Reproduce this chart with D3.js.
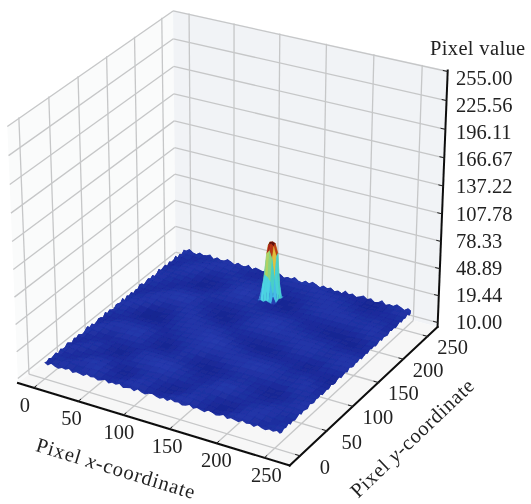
<!DOCTYPE html>
<html>
<head>
<meta charset="utf-8">
<script src="https://cdn.jsdelivr.net/npm/d3@7"></script>
<style>
  html, body { margin: 0; padding: 0; background: #fff; }
  text { font-family: "Liberation Serif", serif; fill: #222; }
</style>
</head>
<body>
<div id="chart"></div>
<script>
let xTicks = [0, 50, 100, 150, 200, 250];
let yTicks = [0, 50, 100, 150, 200, 250];
let zTicks = [255, 225.56, 196.11, 166.67, 137.22, 107.78, 78.33, 48.89, 19.44, -10];
let zTickLabels = ["255.00", "225.56", "196.11", "166.67", "137.22", "107.78", "78.33", "48.89", "19.44", "10.00"];

// pixel value on a coarse 8 px grid, rows are y = 0..256, columns x = 0..256
let surfaceZ = [
[5,4,6,5,4,5,6,5,4,4,5,6,6,5,4,4,5,5,6,6,5,4,4,3,4,5,6,6,5,4,5,5,6],
[4,5,5,6,5,5,6,6,5,4,4,5,6,6,5,4,3,4,5,6,6,5,4,3,3,4,5,6,6,5,4,5,5],
[5,5,4,5,6,6,7,6,5,4,3,4,5,6,5,4,3,3,4,5,6,5,4,3,3,3,5,6,6,6,5,4,5],
[6,5,4,4,5,6,6,5,4,3,3,4,5,5,5,4,4,3,4,5,5,5,5,4,4,4,5,5,6,6,5,5,4],
[5,6,5,4,4,5,5,5,4,4,4,5,5,6,6,5,5,4,4,5,6,6,6,5,5,4,4,5,5,6,5,5,5],
[4,5,6,5,4,4,4,4,4,5,5,6,6,7,6,6,5,5,4,4,5,6,7,6,5,5,4,4,4,5,5,6,5],
[4,4,5,6,5,4,3,3,4,5,6,6,7,7,7,6,5,4,4,4,5,6,6,6,5,4,4,3,4,4,5,6,6],
[5,4,4,5,5,4,3,3,4,5,6,6,6,6,6,5,4,4,3,4,4,5,5,5,5,4,3,3,3,4,5,5,6],
[6,5,4,4,4,4,4,4,4,5,5,5,5,5,5,4,4,3,3,3,4,4,5,5,4,4,4,3,4,5,5,5,5],
[6,6,5,4,4,5,5,5,5,4,4,4,4,5,5,4,3,3,3,4,4,5,5,5,5,5,5,4,5,5,6,5,4],
[5,6,6,5,5,6,6,6,5,4,3,3,4,5,5,5,4,4,4,5,5,6,6,6,6,6,5,5,5,6,6,5,4],
[4,5,6,6,6,6,7,6,5,4,3,3,4,5,6,6,5,5,5,6,6,6,7,7,6,6,5,5,5,6,5,4,4],
[4,4,5,6,6,6,6,6,5,4,4,4,5,5,6,6,6,6,6,6,6,6,6,6,6,5,5,4,5,5,4,4,3],
[5,4,4,5,5,5,5,5,4,4,4,5,5,6,6,7,7,6,6,5,5,5,5,5,5,5,4,4,4,4,4,3,3],
[5,5,4,4,4,4,4,4,4,4,5,5,6,6,7,7,7,6,5,5,4,4,4,4,4,4,4,3,3,4,4,4,4],
[6,5,5,4,3,3,3,3,4,5,5,6,6,6,7,6,6,5,4,4,3,3,3,3,4,4,4,4,3,4,5,5,5],
[6,6,5,4,3,2,3,3,4,5,6,6,6,6,6,5,5,4,4,3,3,3,3,4,4,5,5,5,4,5,5,6,6],
[5,6,6,5,4,3,3,4,5,5,6,6,5,5,5,5,4,4,4,4,4,4,4,5,5,6,6,5,5,5,6,6,6],
[5,5,6,6,5,4,4,4,5,6,6,5,5,4,4,4,4,5,5,5,5,5,5,5,6,6,6,6,5,5,6,6,5],
[4,5,5,6,6,5,5,5,6,6,5,4,4,3,3,4,5,5,6,6,6,6,6,6,6,6,6,5,5,5,5,5,5],
[4,4,5,6,6,6,6,6,6,5,5,4,3,3,3,4,5,6,6,7,7,6,6,6,5,5,5,5,4,4,4,4,4],
[5,4,4,5,6,6,7,7,6,5,4,4,3,3,4,4,5,6,6,7,6,6,5,5,5,4,4,4,4,3,3,4,4],
[5,5,4,4,5,6,6,6,6,5,4,4,4,4,4,5,5,5,6,6,6,5,5,4,4,4,3,3,3,3,3,4,5],
[6,5,5,4,4,5,5,5,5,5,5,5,5,5,5,5,5,5,5,5,5,5,4,4,4,3,3,3,3,4,4,5,5],
[6,6,5,4,4,4,4,4,4,5,5,6,6,6,5,5,4,4,4,4,4,4,4,4,4,4,4,4,4,5,5,6,5],
[5,6,5,5,4,4,3,3,4,4,5,6,6,7,6,5,4,4,3,3,4,4,5,5,5,5,5,5,5,5,6,6,5],
[5,5,5,5,5,4,3,3,3,4,5,6,7,7,6,5,4,3,3,3,4,5,5,6,6,6,6,6,5,6,6,5,4],
[4,5,5,6,5,5,4,3,4,4,5,6,6,6,6,5,4,3,3,4,5,5,6,6,6,6,6,5,5,5,5,5,4],
[4,4,5,6,6,5,4,4,4,5,5,5,6,6,5,4,4,4,4,4,5,5,6,6,6,5,5,5,4,5,5,4,4],
[5,4,5,5,6,6,5,5,5,5,5,5,5,5,5,4,4,4,5,5,5,6,6,6,5,5,4,4,4,4,4,4,5],
[5,5,4,5,5,6,6,6,5,5,4,4,4,5,5,5,5,5,5,5,6,6,6,5,5,4,4,3,4,4,5,5,5],
[6,5,5,4,5,5,6,6,6,5,4,4,4,4,5,5,6,6,6,6,6,5,5,5,4,4,3,3,3,4,5,6,6],
[6,6,5,5,4,5,5,6,6,5,5,4,4,4,5,6,6,7,6,6,5,5,4,4,4,4,4,3,4,5,5,6,5]
];

// rim heights, 4 px apart, they give the jagged outline of the surface
let rimFrontX = [3,1,4,2,1,3,2,4,1,3,2,1,4,2,3,1,2,4,1,3,2,4,1,2,3,1,4,2,1,3,4,2,1,3,1,4,2,3,1,2,4,1,3,2,1,4,3,1,2,4,1,3,2,1,4,2,3,1,4,2,1,3,2,4,2];
let rimRightY = [2,1,3,2,4,1,3,1,2,4,1,3,2,1,4,2,1,3,2,4,1,2,3,1,4,2,1,3,4,1,2,3,1,4,2,1,3,2,4,1,2,3,1,4,2,3,1,2,4,1,3,2,1,4,2,3,1,2,4,1,3,2,4,1,2];
let rimBackX = [5,7,4,6,8,5,6,4,8,5,4,7,5,8,6,4,7,5,8,4,6,4,7,5,7,4,6,8,5,7,4,5,8,5,6,4,7,8,5,4,7,5,6,7,4,8,5,5,7,4,6,8,5,5,7,4,8,6,5,7,4,5,8,5,6];
let rimBackY = [5,7,4,6,4,8,5,5,7,4,7,6,5,8,5,4,7,5,7,6,4,7,8,5,6,4,7,5,7,4,8,5,6,7,4,5,7,5,8,4,6,7,5,4,7,5,8,6,4,5,7,5,7,4,6,8,5,5,7,4,7,6,5,7,5];

// the spike near the upper middle of the plate
let peakX = [118, 121, 124, 127, 130, 133, 136];
let peakY = [200, 203, 206, 209, 212, 215, 218];
let peakZ = [
[6,7,6,8,7,6,6],
[7,20,34,32,28,12,6],
[6,28,56,60,52,30,7],
[8,40,64,66,64,54,8],
[7,38,66,67,66,56,7],
[6,12,50,50,54,24,6],
[6,6,7,8,7,6,6]
];

let colorStops = [1, 4, 8, 11, 16, 30, 42, 48, 54, 62, 68];
let colorRange = ["#141f84", "#1c2c9c", "#2a3fb4", "#3aa0e0", "#4fd4ea", "#46cfc8", "#7ad58a", "#d8cf48", "#f5a020", "#a81c14", "#3a0a0a"];

let width = 531;
let height = 504;

// screen position of the box corners [x, y, z in 0..1, px, py]
let boxCorners = [
    [0, 0, 0, 17, 381],
    [1, 0, 0, 291, 466],
    [1, 1, 0, 437, 327],
    [0, 1, 0, 176, 258],
    [0, 0, 1, 7, 127],
    [0, 1, 1, 174, 9],
    [1, 1, 1, 447, 70]
];

let xDomain = [-18, 276];
let yDomain = [-19, 271];
let zDomain = [-15, 256];

let xScale = d3.scaleLinear().domain(xDomain).range([0, 1]);
let yScale = d3.scaleLinear().domain(yDomain).range([0, 1]);
let zScale = d3.scaleLinear().domain(zDomain).range([0, 1]);
let color = d3.scaleLinear().domain(colorStops).range(colorRange).clamp(true);

// fit a 3x4 camera matrix to the corners (least squares)
function fit_camera(points) {
    let rows = [];
    let rhs = [];
    points.forEach(p => {
        let [u, v, w, sx, sy] = p;
        rows.push([u, v, w, 1, 0, 0, 0, 0, -sx*u, -sx*v, -sx*w]);
        rhs.push(sx);
        rows.push([0, 0, 0, 0, u, v, w, 1, -sy*u, -sy*v, -sy*w]);
        rhs.push(sy);
    });
    let n = 11;
    let m = d3.range(n).map(i => d3.range(n + 1).map(j => {
        let sum = 0;
        rows.forEach((r, k) => { sum += r[i] * (j < n ? r[j] : rhs[k]); });
        return sum;
    }));
    for (let i = 0; i < n; ++i) {
        let best = i;
        for (let k = i + 1; k < n; ++k) {
            if (Math.abs(m[k][i]) > Math.abs(m[best][i])) best = k;
        }
        [m[i], m[best]] = [m[best], m[i]];
        for (let k = 0; k < n; ++k) {
            if (k === i) continue;
            let f = m[k][i] / m[i][i];
            for (let j = i; j <= n; ++j) m[k][j] -= f * m[i][j];
        }
    }
    return m.map((r, i) => r[n] / r[i]);
}

let cam = fit_camera(boxCorners);

function project(x, y, z) {
    let u = xScale(x), v = yScale(y), w = zScale(z);
    let d = cam[8]*u + cam[9]*v + cam[10]*w + 1;
    return [(cam[0]*u + cam[1]*v + cam[2]*w + cam[3]) / d,
            (cam[4]*u + cam[5]*v + cam[6]*w + cam[7]) / d];
}

let svg = d3.select("#chart").append("svg")
    .attr("width", width)
    .attr("height", height)
    .style("display", "block");

let defs = svg.append("defs");
defs.append("filter").attr("id", "soft").append("feGaussianBlur").attr("stdDeviation", 0.5);
defs.append("filter").attr("id", "softer").append("feGaussianBlur").attr("stdDeviation", 0.4);

let line = d3.line();
let [x0, x1] = xDomain, [y0, y1] = yDomain, [z0, z1] = zDomain;

// PANES
let panes = svg.append("g").attr("filter", "url(#softer)");
let paneData = [
    {fill: "#fafbfb", pts: [[x0,y0,z0],[x0,y0,z1],[x0,y1,z1],[x0,y1,z0]]},
    {fill: "#f1f3f6", pts: [[x0,y1,z0],[x0,y1,z1],[x1,y1,z1],[x1,y1,z0]]},
    {fill: "#f7f7f7", pts: [[x0,y0,z0],[x1,y0,z0],[x1,y1,z0],[x0,y1,z0]]}
];
panes.selectAll("path").data(paneData).enter().append("path")
    .attr("d", d => line(d.pts.map(p => project(...p))) + "Z")
    .attr("fill", d => d.fill);

// GRID
let gridSegments = [];
xTicks.forEach(t => {
    gridSegments.push([[t,y0,z0],[t,y1,z0]]);
    gridSegments.push([[t,y1,z0],[t,y1,z1]]);
});
yTicks.forEach(t => {
    gridSegments.push([[x0,t,z0],[x1,t,z0]]);
    gridSegments.push([[x0,t,z0],[x0,t,z1]]);
});
zTicks.forEach(t => {
    gridSegments.push([[x0,y0,t],[x0,y1,t]]);
    gridSegments.push([[x0,y1,t],[x1,y1,t]]);
});
panes.selectAll("line").data(gridSegments).enter().append("path")
    .attr("d", d => line(d.map(p => project(...p))))
    .attr("fill", "none")
    .attr("stroke", "#c6c7c8")
    .attr("stroke-width", 1.3);

// SURFACE
let rimPoints = [];
rimFrontX.forEach((z, i) => rimPoints.push([Math.min(i*4, 255), 0, z]));
rimRightY.forEach((z, i) => rimPoints.push([255, Math.min(i*4, 255), z]));
rimBackX.forEach((z, i) => rimPoints.push([Math.min((64-i)*4, 255), 255, z]));
rimBackY.forEach((z, i) => rimPoints.push([3, Math.min((64-i)*4, 255), z]));
let outline = line(rimPoints.map(p => project(...p))) + "Z";

defs.append("clipPath").attr("id", "plate").append("path").attr("d", outline);

let surface = svg.append("g").attr("filter", "url(#soft)");
surface.append("path").attr("d", outline).attr("fill", color(5));

let gridStep = 256 / (surfaceZ.length - 1);
let cells = [];
for (let j = surfaceZ.length - 2; j >= 0; --j) {
    for (let i = 0; i < surfaceZ[j].length - 1; ++i) {
        cells.push({
            pts: [[i, j], [i+1, j], [i+1, j+1], [i, j+1]].map(c => [c[0]*gridStep, c[1]*gridStep, surfaceZ[c[1]][c[0]]]),
            z: d3.mean([surfaceZ[j][i], surfaceZ[j][i+1], surfaceZ[j+1][i], surfaceZ[j+1][i+1]])
        });
    }
}
surface.append("g").attr("clip-path", "url(#plate)")
    .selectAll("path").data(cells).enter().append("path")
    .attr("d", d => line(d.pts.map(p => project(...p))) + "Z")
    .attr("fill", d => color(d.z))
    .attr("stroke", d => color(d.z))
    .attr("stroke-width", 0.6);

let peakCells = [];
for (let j = peakY.length - 2; j >= 0; --j) {
    for (let i = 0; i < peakX.length - 1; ++i) {
        let corners = [[i, j], [i+1, j], [i+1, j+1], [i, j+1]];
        peakCells.push({
            pts: corners.map(c => [peakX[c[0]], peakY[c[1]], peakZ[c[1]][c[0]]]),
            z: d3.mean(corners, c => peakZ[c[1]][c[0]])
        });
    }
}
svg.append("g").attr("filter", "url(#softer)")
    .selectAll("path").data(peakCells).enter().append("path")
    .attr("d", d => line(d.pts.map(p => project(...p))) + "Z")
    .attr("fill", d => color(d.z))
    .attr("stroke", d => color(d.z))
    .attr("stroke-width", 0.3);

// AXES
let axes = svg.append("g").attr("filter", "url(#softer)");
let axisLines = [
    [[x0,y0,z0],[x1,y0,z0]],
    [[x1,y0,z0],[x1,y1,z0]],
    [[x1,y1,z0],[x1,y1,z1]]
];
axes.selectAll("path.axis").data(axisLines).enter().append("path")
    .attr("class", "axis")
    .attr("d", d => line(d.map(p => project(...p))))
    .attr("fill", "none")
    .attr("stroke", "#111")
    .attr("stroke-width", 2)
    .attr("stroke-linecap", "square");

let tickSegments = [];
xTicks.forEach(t => tickSegments.push([[t,y0+5,z0],[t,y0-1,z0]]));
yTicks.forEach(t => tickSegments.push([[x1-5,t,z0],[x1+1,t,z0]]));
zTicks.forEach(t => tickSegments.push([[x1-5,y1,t],[x1,y1,t]]));
axes.selectAll("path.tick").data(tickSegments).enter().append("path")
    .attr("class", "tick")
    .attr("d", d => line(d.map(p => project(...p))))
    .attr("fill", "none")
    .attr("stroke", "#222")
    .attr("stroke-width", 1);

// LABELS
let labels = svg.append("g").attr("font-size", "20.5px").attr("filter", "url(#softer)");

let xLabelShift = d3.scaleLinear().domain([0, 250]).range([-9, 2]);
labels.selectAll("text.xt").data(xTicks).enter().append("text")
    .attr("class", "xt")
    .attr("text-anchor", "middle")
    .attr("x", d => project(d, y0, z0)[0] + xLabelShift(d))
    .attr("y", d => project(d, y0, z0)[1] + 24)
    .text(d => d);

labels.selectAll("text.yt").data(yTicks).enter().append("text")
    .attr("class", "yt")
    .attr("text-anchor", "middle")
    .attr("x", d => project(x1, d, z0)[0] + 25)
    .attr("y", d => project(x1, d, z0)[1] + 18)
    .text(d => d);

let zLabelY = d3.scaleLinear().domain([255, -10]).range([85, 329]);
labels.selectAll("text.zt").data(zTicks).enter().append("text")
    .attr("class", "zt")
    .attr("x", 456)
    .attr("y", d => zLabelY(d))
    .text((d, i) => zTickLabels[i]);

labels.append("text")
    .attr("x", 430).attr("y", 55)
    .style("letter-spacing", "0.35px")
    .text("Pixel value");

let xTitle = labels.append("text")
    .attr("text-anchor", "middle")
    .attr("transform", "translate(114,475) rotate(17)")
    .style("letter-spacing", "0.9px");
xTitle.append("tspan").text("Pixel ");
xTitle.append("tspan").attr("font-style", "italic").text("x");
xTitle.append("tspan").text("-coordinate");

let yTitle = labels.append("text")
    .attr("text-anchor", "middle")
    .attr("transform", "translate(417,443) rotate(-43.5)")
    .style("letter-spacing", "0.7px");
yTitle.append("tspan").text("Pixel ");
yTitle.append("tspan").attr("font-style", "italic").text("y");
yTitle.append("tspan").text("-coordinate");
</script>
</body>
</html>
